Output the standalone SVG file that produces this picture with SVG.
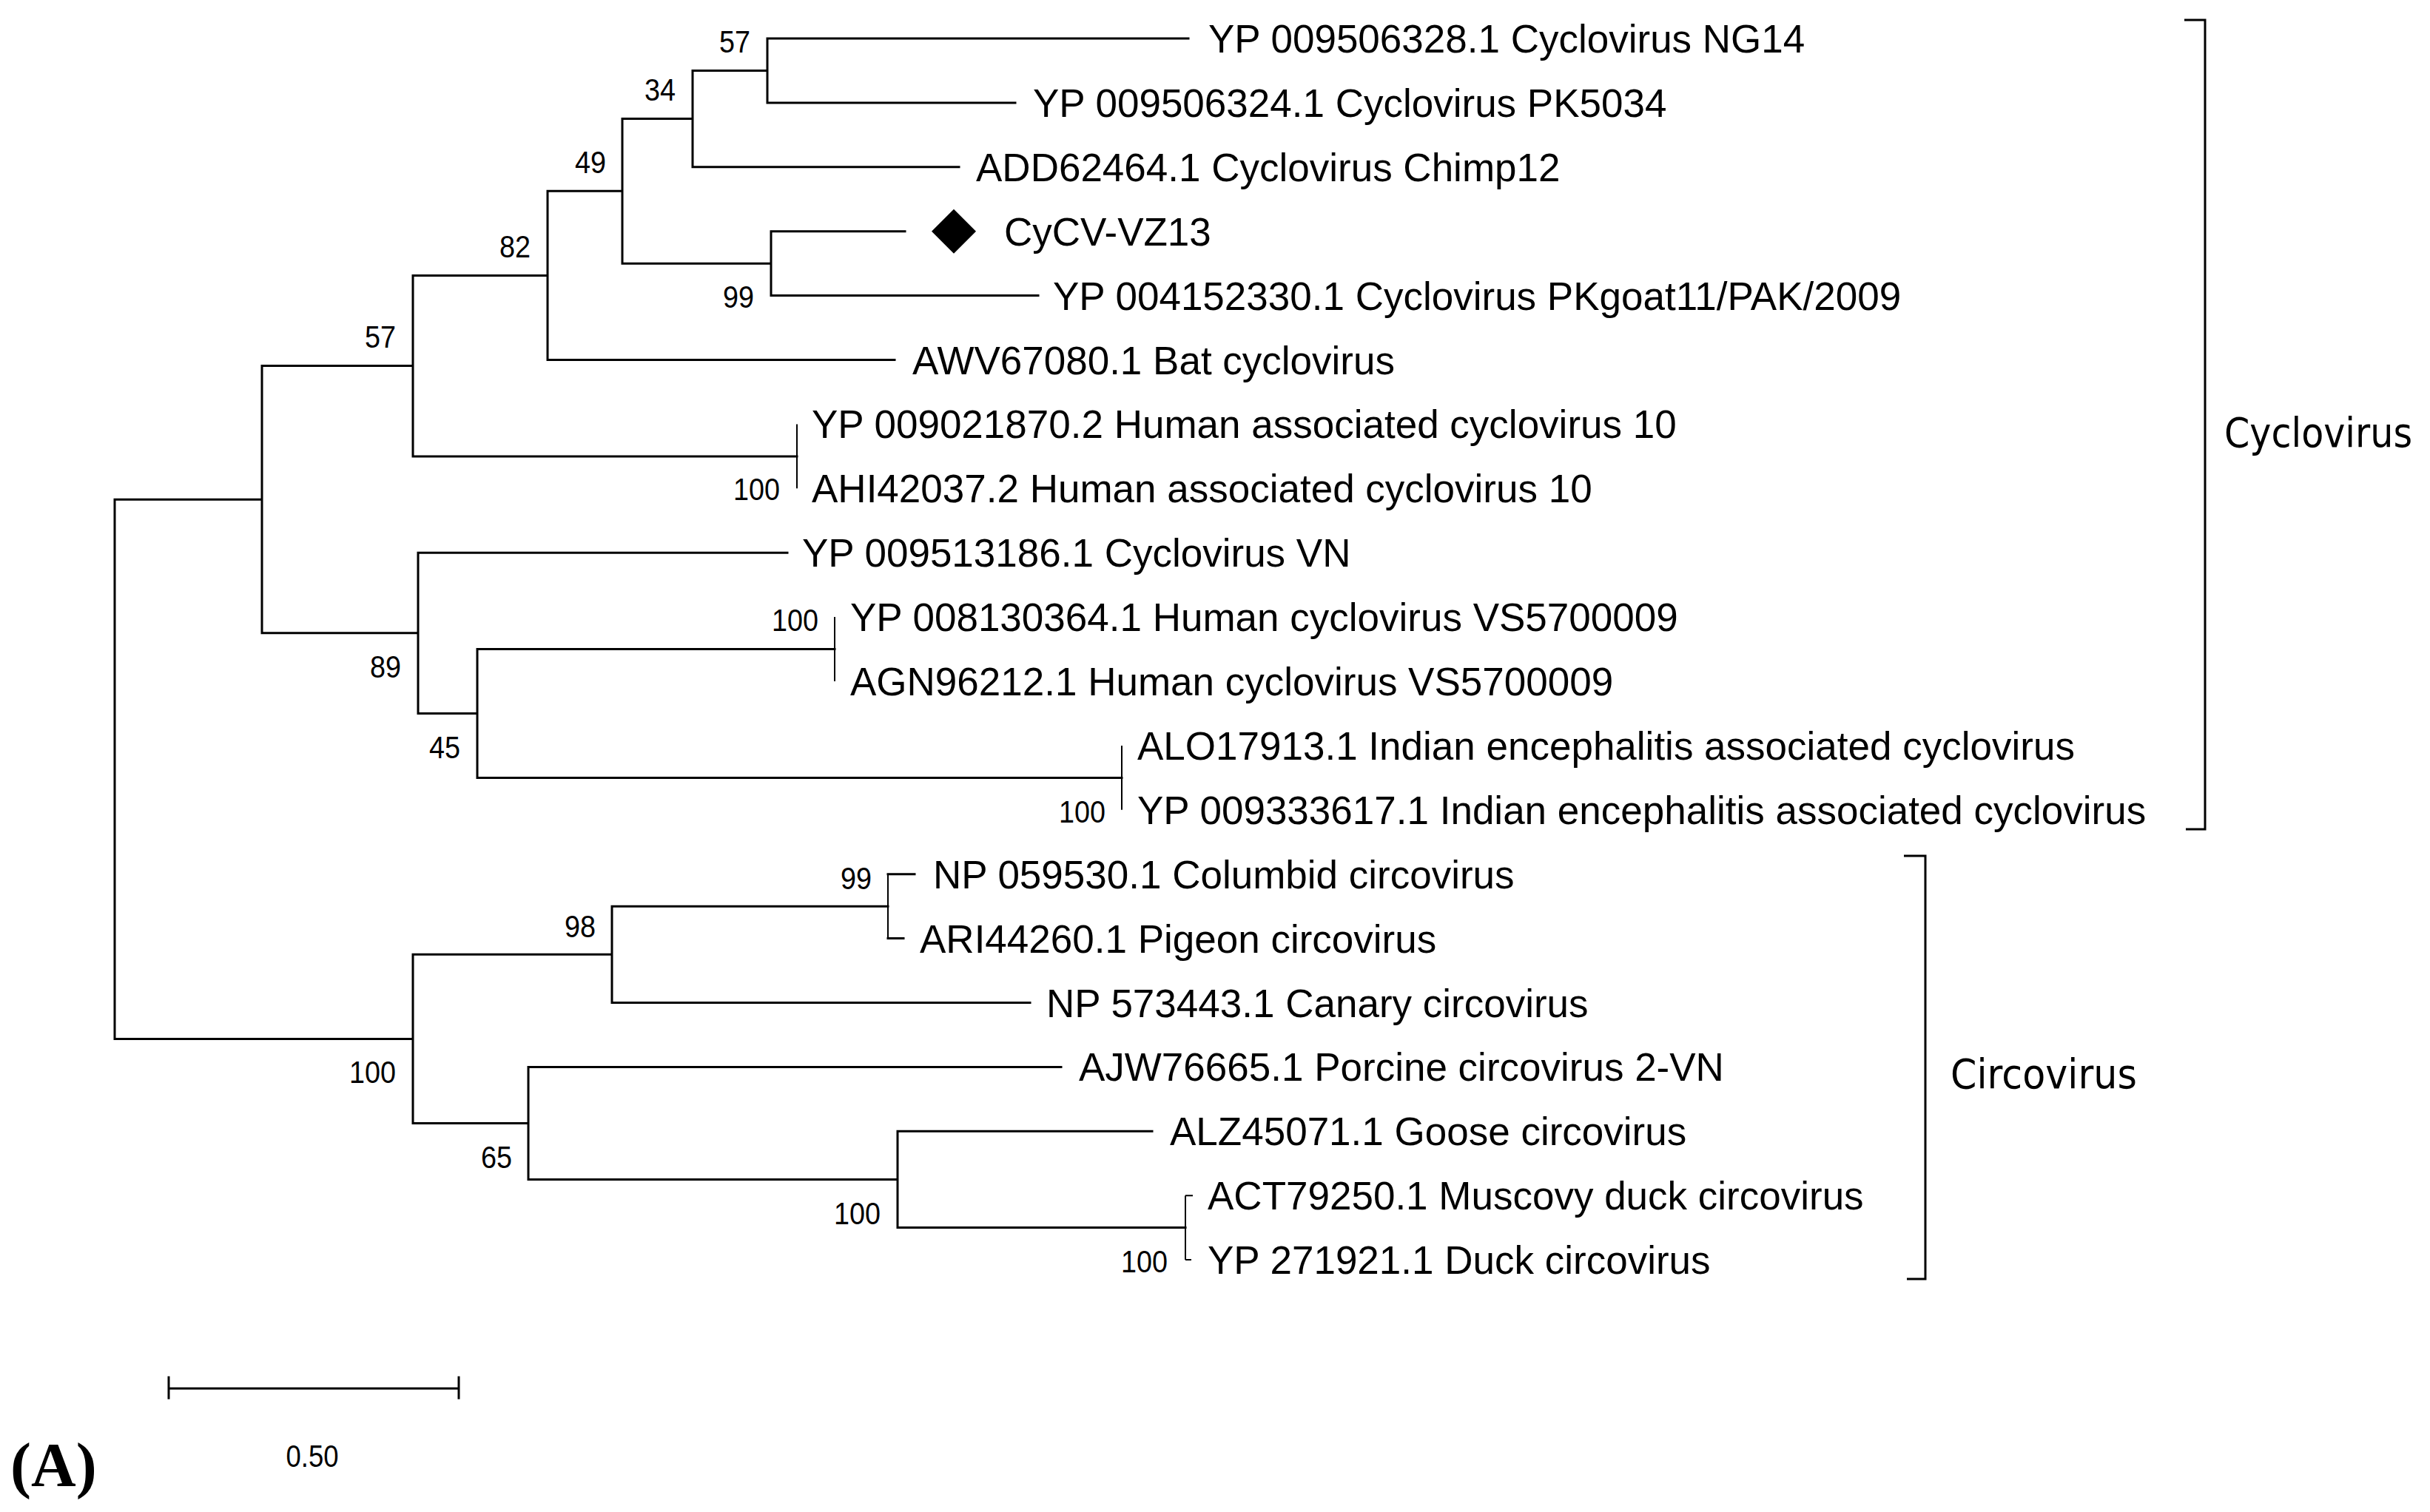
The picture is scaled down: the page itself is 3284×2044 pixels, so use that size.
<svg xmlns="http://www.w3.org/2000/svg" width="3284" height="2044" viewBox="0 0 3284 2044">
<style>
.br{fill:none;stroke:#000;stroke-width:3;stroke-linecap:square}
.thin{fill:none;stroke:#000;stroke-width:2}
.tip{font-family:"Liberation Sans",Arial,sans-serif;font-size:53px;fill:#000}
.bs{font-family:"Liberation Sans",Arial,sans-serif;font-size:43px;fill:#000;text-anchor:end}
.grp{font-family:"DejaVu Sans",Verdana,sans-serif;font-size:55px;fill:#000}
.brk{fill:none;stroke:#000;stroke-width:3}
</style>
<rect width="3284" height="2044" fill="#fff"/>
<g id="connectors">
<path class="br" d="M155,675.2V1404.4 M155,675.2H354 M155,1404.4H558
M354,494.6V855.8 M354,494.6H558 M354,855.8H565
M558,372.4V616.9 M558,372.4H740 M558,616.9H1077
M740,258.3V486.5 M740,258.3H841 M740,486.5H1209
M841,160.6V356.2 M841,160.6H936 M841,356.2H1042
M936,95.5V225.8 M936,95.5H1037 M936,225.8H1296
M1037,52V138.9 M1037,52H1606 M1037,138.9H1372
M1042,312.7V399.6 M1042,312.7H1223 M1042,399.6H1403
M565,747.2V964.5 M565,747.2H1064 M565,964.5H645
M645,877.5V1051.4 M645,877.5H1128 M645,1051.4H1516
M558,1290.3V1518.4 M558,1290.3H827 M558,1518.4H714
M827,1225.2V1355.5 M827,1225.2H1200 M827,1355.5H1392
M714,1442.4V1594.5 M714,1442.4H1434 M714,1594.5H1213
M1213,1529.3V1659.6 M1213,1529.3H1557 M1213,1659.6H1602
M1200,1181.7H1236 M1200,1268.6H1221"/>
<path class="thin" d="M1077,573.4V660.3 M1128,834.1V921 M1516,1007.9V1094.8 M1200,1181.7V1268.6 M1602,1616.2V1703.1 M1602,1616.2H1612 M1602,1703.1H1610"/>
</g>
<g id="bootstrap">
<text class="bs" x="1014" y="71" textLength="42" lengthAdjust="spacingAndGlyphs">57</text>
<text class="bs" x="913" y="136" textLength="42" lengthAdjust="spacingAndGlyphs">34</text>
<text class="bs" x="819" y="234" textLength="42" lengthAdjust="spacingAndGlyphs">49</text>
<text class="bs" x="717" y="348" textLength="42" lengthAdjust="spacingAndGlyphs">82</text>
<text class="bs" x="1019" y="416" textLength="42" lengthAdjust="spacingAndGlyphs">99</text>
<text class="bs" x="535" y="470" textLength="42" lengthAdjust="spacingAndGlyphs">57</text>
<text class="bs" x="1054" y="676" textLength="63" lengthAdjust="spacingAndGlyphs">100</text>
<text class="bs" x="542" y="916" textLength="42" lengthAdjust="spacingAndGlyphs">89</text>
<text class="bs" x="622" y="1025" textLength="42" lengthAdjust="spacingAndGlyphs">45</text>
<text class="bs" x="1106" y="853" textLength="63" lengthAdjust="spacingAndGlyphs">100</text>
<text class="bs" x="1494" y="1112" textLength="63" lengthAdjust="spacingAndGlyphs">100</text>
<text class="bs" x="805" y="1267" textLength="42" lengthAdjust="spacingAndGlyphs">98</text>
<text class="bs" x="535" y="1464" textLength="63" lengthAdjust="spacingAndGlyphs">100</text>
<text class="bs" x="692" y="1579" textLength="42" lengthAdjust="spacingAndGlyphs">65</text>
<text class="bs" x="1178" y="1202" textLength="42" lengthAdjust="spacingAndGlyphs">99</text>
<text class="bs" x="1190" y="1655" textLength="63" lengthAdjust="spacingAndGlyphs">100</text>
<text class="bs" x="1578" y="1720" textLength="63" lengthAdjust="spacingAndGlyphs">100</text>
</g>
<g id="tip1"><text class="tip" x="1633" y="71">YP 009506328.1 Cyclovirus NG14</text></g>
<g id="tip2"><text class="tip" x="1396" y="158">YP 009506324.1 Cyclovirus PK5034</text></g>
<g id="tip3"><text class="tip" x="1319" y="245">ADD62464.1 Cyclovirus Chimp12</text></g>
<g id="tip4"><polygon points="1289,282.7 1319,312.7 1289,342.7 1259,312.7" fill="#000"/><text class="tip" x="1357" y="332">CyCV-VZ13</text></g>
<g id="tip5"><text class="tip" x="1423" y="419">YP 004152330.1 Cyclovirus PKgoat11/PAK/2009</text></g>
<g id="tip6"><text class="tip" x="1233" y="506">AWV67080.1 Bat cyclovirus</text></g>
<g id="tip7"><text class="tip" x="1097" y="592">YP 009021870.2 Human associated cyclovirus 10</text></g>
<g id="tip8"><text class="tip" x="1097" y="679">AHI42037.2 Human associated cyclovirus 10</text></g>
<g id="tip9"><text class="tip" x="1084" y="766">YP 009513186.1 Cyclovirus VN</text></g>
<g id="tip10"><text class="tip" x="1149" y="853">YP 008130364.1 Human cyclovirus VS5700009</text></g>
<g id="tip11"><text class="tip" x="1149" y="940">AGN96212.1 Human cyclovirus VS5700009</text></g>
<g id="tip12"><text class="tip" x="1537" y="1027">ALO17913.1 Indian encephalitis associated cyclovirus</text></g>
<g id="tip13"><text class="tip" x="1537" y="1114">YP 009333617.1 Indian encephalitis associated cyclovirus</text></g>
<g id="tip14"><text class="tip" x="1261" y="1201">NP 059530.1 Columbid circovirus</text></g>
<g id="tip15"><text class="tip" x="1243" y="1288">ARI44260.1 Pigeon circovirus</text></g>
<g id="tip16"><text class="tip" x="1414" y="1375">NP 573443.1 Canary circovirus</text></g>
<g id="tip17"><text class="tip" x="1458" y="1461">AJW76665.1 Porcine circovirus 2-VN</text></g>
<g id="tip18"><text class="tip" x="1581" y="1548">ALZ45071.1 Goose circovirus</text></g>
<g id="tip19"><text class="tip" x="1632" y="1635">ACT79250.1 Muscovy duck circovirus</text></g>
<g id="tip20"><text class="tip" x="1632" y="1722">YP 271921.1 Duck circovirus</text></g>
<g id="cyclovirus-group">
<path class="brk" d="M2952,27H2980V1121H2954"/>
<text class="grp" x="3006" y="604" textLength="254" lengthAdjust="spacingAndGlyphs">Cyclovirus</text>
</g>
<g id="circovirus-group">
<path class="brk" d="M2573,1157H2602V1729H2577"/>
<text class="grp" x="2636" y="1471" textLength="252" lengthAdjust="spacingAndGlyphs">Circovirus</text>
</g>
<g id="scale-bar">
<path class="br" d="M228,1877H620 M228,1862V1890 M620,1862V1890"/>
<text class="bs" x="422" y="1983" style="text-anchor:middle" textLength="71" lengthAdjust="spacingAndGlyphs">0.50</text>
</g>
<g id="panel-label"><text x="14" y="2009" font-family="'Liberation Serif','Times New Roman',serif" font-weight="bold" font-size="84">(A)</text></g>
</svg>
